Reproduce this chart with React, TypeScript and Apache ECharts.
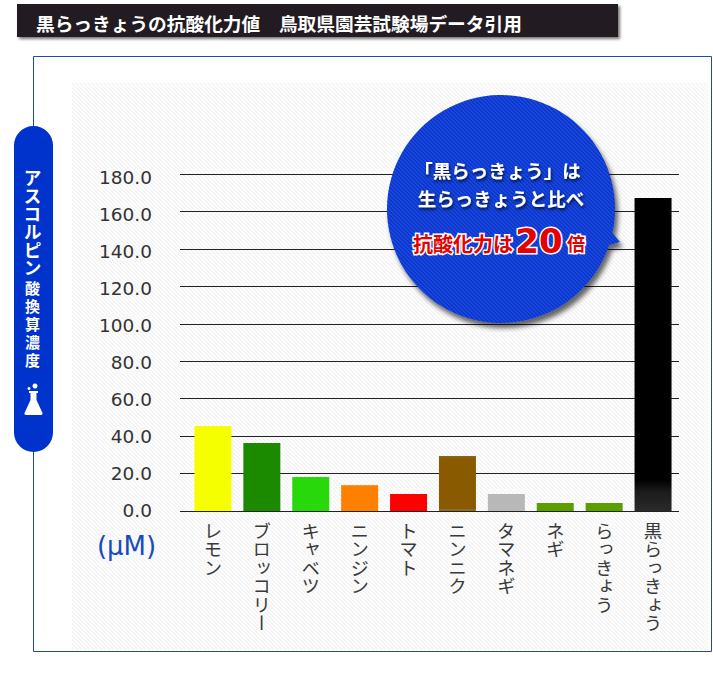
import React, { useEffect, useRef } from "react";
import * as echarts from "echarts";

const categories = ["レモン", "ブロッコリー", "キャベツ", "ニンジン", "トマト", "ニンニク", "タマネギ", "ネギ", "らっきょう", "黒らっきょう"];
const values = [45.4, 36.3, 18.2, 13.9, 9.1, 29.4, 9.1, 4.3, 4.3, 167.2];
const yMin = 0;
const yMax = 180;
const yInterval = 20;
const titleText = "黒らっきょうの抗酸化力値　鳥取県園芸試験場データ引用";
const sideKana = "アスコルピン";
const sideKanji = "酸換算濃度";
const unitText = "(μM)";
const bubbleLine1 = "「黒らっきょう」は";
const bubbleLine2 = "生らっきょうと比べ";
const bubbleRed1 = "抗酸化力は";
const bubbleRed2 = "20";
const bubbleRed3 = "倍";

const JP = '"Noto Sans CJK JP", sans-serif';
const NUM = '"DejaVu Sans", sans-serif';

const grad = (stops: [number, string][]) =>
  new echarts.graphic.LinearGradient(0, 0, 0, 1, stops.map(([offset, color]) => ({ offset, color })));

const barColors: any[] = [
  "#f5ff00",
  "#1c8a00",
  "#28d80a",
  grad([[0, "#ffa040"], [0.05, "#ff8000"], [1, "#ff8000"]]),
  "#ff0000",
  grad([[0, "#8a6312"], [0.04, "#8a6312"], [0.04, "#8a5a00"], [0.96, "#8a5a00"], [0.96, "#8f6a20"], [1, "#8f6a20"]]),
  "#b8b8b8",
  "#5a9e00",
  "#5a9e00",
  grad([[0, "#000"], [0.9, "#000"], [0.94, "#1c1c1c"], [1, "#2a2a2a"]]),
];

echarts.graphic.registerShape(
  "bubbleShape",
  echarts.graphic.extendPath("M612.45 233 L620 242 L609.17 245 A114 114 0 1 1 612.45 233 Z", {})
);
echarts.graphic.registerShape(
  "flaskShape",
  echarts.graphic.extendPath(
    "M29 391 L38 391 L38 393 L36.5 393 L36.5 400 L42.5 413 Q43 415 41 415 L26 415 Q24 415 24.5 413 L30.5 400 L30.5 393 L29 393 Z",
    {}
  )
);

function hatch(bg: string, fg: string) {
  const size = 4;
  const c = document.createElement("canvas");
  c.width = size;
  c.height = size;
  const g = c.getContext("2d")!;
  g.fillStyle = bg;
  g.fillRect(0, 0, size, size);
  g.fillStyle = fg;
  for (let y = 0; y < size; y++) {
    g.fillRect((y + 0) % size, y, 1, 1);
    g.fillRect((y + 1) % size, y, 1, 1);
  }
  return { image: c.toDataURL(), repeat: "repeat", imageWidth: size, imageHeight: size };
}

export default function App() {
  const ref = useRef<HTMLDivElement>(null);
  useEffect(() => {
    const el = ref.current!;
    const chart = echarts.init(el, undefined, { renderer: "svg" });
    const shadowText = { textShadowColor: "rgba(0,0,0,0.75)", textShadowBlur: 3, textShadowOffsetX: 1, textShadowOffsetY: 2 };
    chart.setOption({
      animation: false,
      backgroundColor: "#ffffff",
      grid: [
        { left: 180, width: 499, top: 174, height: 337 },
        { left: 188.5, width: 489, top: 174, height: 337 },
        { left: 180, width: 499, top: 177, height: 333 },
      ],
      xAxis: [
        { gridIndex: 0, type: "value", min: 0, max: 1, show: false },
        {
          gridIndex: 1,
          type: "category",
          data: categories,
          axisLine: { show: false },
          axisTick: { show: false },
          axisLabel: { interval: 0, margin: 1, color: "#3a3a3a", fontFamily: JP, fontSize: 18.5 },
        },
        { gridIndex: 2, type: "value", min: 0, max: 1, show: false },
      ],
      yAxis: [
        {
          gridIndex: 0,
          type: "value",
          min: yMin,
          max: yMax,
          interval: yInterval,
          axisLine: { show: false },
          axisTick: { show: false },
          axisLabel: { show: false },
          splitLine: { show: true, lineStyle: { color: "#222", width: 1 } },
        },
        { gridIndex: 1, type: "value", min: yMin, max: yMax, interval: yInterval, show: false },
        {
          gridIndex: 2,
          type: "value",
          min: yMin,
          max: yMax,
          interval: yInterval,
          axisLine: { show: false },
          axisTick: { show: false },
          splitLine: { show: false },
          axisLabel: {
            margin: 28,
            color: "#333",
            fontFamily: NUM,
            fontSize: 18.5,
            formatter: (v: number) => v.toFixed(1),
          },
        },
      ],
      series: [
        {
          type: "bar",
          xAxisIndex: 1,
          yAxisIndex: 1,
          barWidth: 37,
          z: 3,
          data: values.map((value, i) => ({ value, itemStyle: { color: barColors[i] } })),
        },
      ],
      graphic: {
        elements: [
          { type: "rect", z: -3, shape: { x: 33.5, y: 56.5, width: 678, height: 595 }, style: { fill: "#fff", stroke: "#1e4ca8", lineWidth: 1 } },
          { type: "rect", z: -2, shape: { x: 72, y: 83, width: 636, height: 567 }, style: { fill: hatch("#fefefe", "#f5f5f5") } },
          {
            type: "rect",
            z: 10,
            shape: { x: 17, y: 4, width: 601, height: 33 },
            style: { fill: "#231f20", shadowColor: "rgba(0,0,0,0.55)", shadowBlur: 3, shadowOffsetX: 2, shadowOffsetY: 2 },
          },
          {
            type: "text",
            z: 11,
            x: 36,
            y: 22,
            style: { text: titleText, fill: "#fff", font: `bold 18.7px ${JP}`, align: "left", verticalAlign: "middle" },
          },
          { type: "rect", z: 10, shape: { x: 14, y: 126, width: 39, height: 326, r: 19.5 }, style: { fill: "#0033cc" } },
          { type: "text", z: 11, x: 32.5, y: 160, style: { text: sideKana, fill: "#fff", font: `bold 18px ${JP}`, align: "center", verticalAlign: "top" } },
          { type: "text", z: 11, x: 32.5, y: 273, style: { text: sideKanji, fill: "#fff", font: `bold 15px ${JP}`, align: "center", verticalAlign: "top" } },
          { type: "flaskShape", z: 11, style: { fill: "#fff" } },
          { type: "circle", z: 11, shape: { cx: 35, cy: 386, r: 2.5 }, style: { fill: "#fff" } },
          { type: "circle", z: 11, shape: { cx: 29, cy: 388.5, r: 1.5 }, style: { fill: "#fff" } },
          { type: "text", z: 5, x: 126.5, y: 546, style: { text: unitText, fill: "#1a4bbd", font: `26px ${NUM}`, align: "center", verticalAlign: "middle" } },
          {
            type: "bubbleShape",
            z: 20,
            style: { fill: hatch("#0a36cc", "#1448dc"), shadowColor: "rgba(0,0,0,0.6)", shadowBlur: 5, shadowOffsetX: 3, shadowOffsetY: 5 },
          },
          { type: "text", z: 21, x: 497.5, y: 170, style: { text: bubbleLine1, fill: "#fff", font: `bold 18.5px ${JP}`, align: "center", verticalAlign: "middle", ...shadowText } },
          { type: "text", z: 21, x: 501, y: 198, style: { text: bubbleLine2, fill: "#fff", font: `bold 18.5px ${JP}`, align: "center", verticalAlign: "middle", ...shadowText } },
          { type: "text", z: 21, x: 413, y: 243, style: { text: bubbleRed1, fill: "#e60000", stroke: "#fff", lineWidth: 3, font: `bold 20px ${JP}`, align: "left", verticalAlign: "middle" } },
          { type: "text", z: 21, x: 539, y: 241, style: { text: bubbleRed2, fill: "#e60000", stroke: "#fff", lineWidth: 3, font: `bold 34px ${NUM}`, align: "center", verticalAlign: "middle" } },
          { type: "text", z: 21, x: 567, y: 243, style: { text: bubbleRed3, fill: "#e60000", stroke: "#fff", lineWidth: 3, font: `bold 18px ${JP}`, align: "left", verticalAlign: "middle" } },
        ],
      },
    });
    const vertical = new Set([...categories, sideKana, sideKanji]);
    el.querySelectorAll("text").forEach((t) => {
      const content = t.textContent || "";
      if (vertical.has(content)) {
        const s = (t as unknown as SVGElement).style as any;
        s.writingMode = "vertical-rl";
        s.textAnchor = "start";
        if (content === sideKanji) s.letterSpacing = "3px";
      }
      if (t.getAttribute("stroke")) (t as unknown as SVGElement).style.setProperty("paint-order", "stroke");
    });
    return () => chart.dispose();
  }, []);
  return <div ref={ref} style={{ position: "fixed", left: 0, top: 0, width: 713, height: 700 }} />;
}
